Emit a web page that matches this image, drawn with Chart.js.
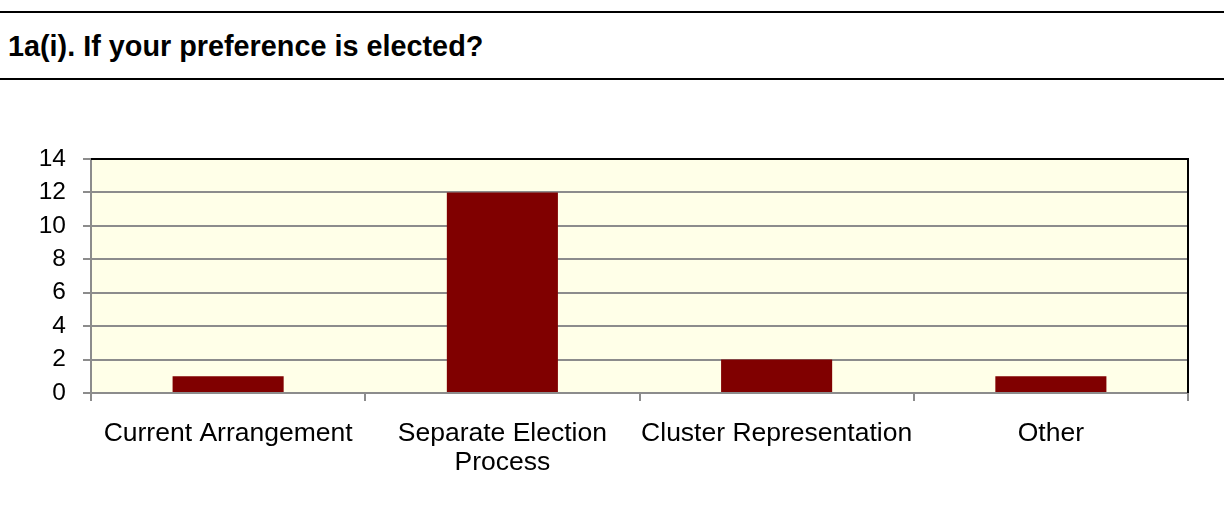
<!DOCTYPE html>
<html>
<head>
<meta charset="utf-8">
<script src="https://cdn.jsdelivr.net/npm/chart.js@4/dist/chart.umd.min.js"></script>
<style>
  html, body { margin: 0; padding: 0; background: #fff; }
  #wrap { position: relative; width: 1224px; height: 520px; overflow: hidden; }
  #title {
    position: absolute; left: 0; top: 11px; width: 1224px; height: 65px;
    border-top: 2px solid #000; border-bottom: 2px solid #000;
    font-family: "Liberation Sans", Arial, sans-serif; font-weight: bold;
    font-size: 28.8px; line-height: 67px; padding-left: 8px; box-sizing: content-box;
  }
  #chart { position: absolute; left: 0; top: 0; }
</style>
</head>
<body>
<div id="wrap">
  <div id="title">1a(i). If your preference is elected?</div>
  <canvas id="chart" width="1224" height="520"></canvas>
</div>
<script>
const categories = [['Current Arrangement'], ['Separate Election', 'Process'], ['Cluster Representation'], ['Other']];
const counts = [1, 12, 2, 1];
const yTicks = [0, 2, 4, 6, 8, 10, 12, 14];

// fill plot background and draw the black top/right frame
const plotFrame = {
    id: 'plotFrame',
    beforeDraw(chart) {
        const a = chart.chartArea, ctx = chart.ctx;
        ctx.save();
        ctx.fillStyle = '#FFFFE8';
        ctx.fillRect(a.left, a.top, a.right - a.left, a.bottom - a.top);
        ctx.restore();
    },
    afterDraw(chart) {
        const a = chart.chartArea, ctx = chart.ctx;
        ctx.save();
        ctx.strokeStyle = '#000';
        ctx.lineWidth = 2;
        ctx.beginPath();
        ctx.moveTo(a.left, a.top);
        ctx.lineTo(a.right, a.top);
        ctx.lineTo(a.right, a.bottom);
        ctx.stroke();
        ctx.restore();
    }
};

new Chart(document.getElementById('chart'), {
    type: 'bar',
    data: {
        labels: categories,
        datasets: [{
            data: counts,
            backgroundColor: '#800000',
            barPercentage: 0.405,
            categoryPercentage: 1
        }]
    },
    options: {
        responsive: false,
        animation: false,
        layout: { padding: { left: 0, top: 159, right: 36, bottom: 0 } },
        plugins: { legend: { display: false }, tooltip: { enabled: false } },
        scales: {
            x: {
                grid: { display: true, drawOnChartArea: false, offset: true, tickLength: 8, color: '#8c8c8c', lineWidth: 2 },
                border: { color: '#8c8c8c', width: 2 },
                ticks: {
                    color: '#000', padding: 18, maxRotation: 0, autoSkip: false,
                    font: { family: '"Liberation Sans", Arial, sans-serif', size: 26.5, lineHeight: 1.1 }
                },
                afterFit(scale) { scale.height = 127; }
            },
            y: {
                min: 0, max: 14,
                afterBuildTicks(scale) { scale.ticks = yTicks.map(v => ({ value: v })); },
                grid: { color: '#8c8c8c', lineWidth: 2, tickLength: 8 },
                border: { color: '#8c8c8c', width: 2 },
                ticks: {
                    color: '#000', padding: 17,
                    font: { family: '"Liberation Sans", Arial, sans-serif', size: 24.5 }
                },
                afterFit(scale) { scale.width = 91; }
            }
        }
    },
    plugins: [plotFrame]
});
</script>
</body>
</html>
